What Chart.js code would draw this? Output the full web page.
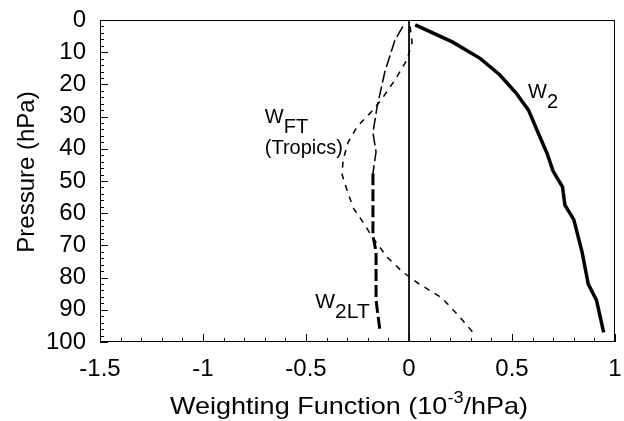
<!DOCTYPE html>
<html>
<head>
<meta charset="utf-8">
<script src="https://cdn.jsdelivr.net/npm/chart.js@4"></script>
<style>
  html, body { margin: 0; padding: 0; background: #fff; }
  #wrap { width: 624px; height: 421px; }
</style>
</head>
<body>
<div id="wrap"><canvas id="chart" width="624" height="421"></canvas></div>
<script>
'use strict'

// tick values
const xTicks = [-1.5, -1, -0.5, 0, 0.5, 1];
const yTicks = [0, 10, 20, 30, 40, 50, 60, 70, 80, 90, 100];

// W2 (thick solid)
const w2X = [0.03, 0.21, 0.345, 0.44, 0.52, 0.58, 0.62, 0.67, 0.70, 0.745, 0.757, 0.80, 0.84, 0.87, 0.91, 0.945];
const w2P = [1.5, 6.8, 11.9, 17, 22.7, 28, 34, 41.4, 47, 51.8, 57.5, 62, 72, 82, 87, 97];

// WFT tropics (short dashes)
const wftX = [0.005, 0.015, -0.01, -0.068, -0.126, -0.175, -0.25, -0.296, -0.32, -0.325, -0.3, -0.27, -0.214, -0.175, -0.107, -0.03, 0.05, 0.16, 0.25, 0.31];
const wftP = [2, 7, 12.4, 18.6, 24, 28, 33, 38, 43.5, 48, 53, 58.4, 63.7, 67.7, 73.6, 78.3, 82, 86.3, 92.5, 97];

// W2LT (long dashes)
const w2ltX = [-0.03, -0.068, -0.117, -0.155, -0.175, -0.16, -0.175, -0.175, -0.16, -0.16, -0.14];
const w2ltP = [2, 6.2, 16, 27, 35, 41, 47.6, 67, 72, 87, 97];

// zero line
const zeroX = [0, 0];
const zeroP = [0, 100];

const FONT = "'Liberation Sans', Arial, sans-serif";

function pts(xs, ps) {
    return xs.map((x, i) => ({ x: x, y: ps[i] }));
}

function noPad(s) {
    s.paddingTop = 0;
    s.paddingBottom = 0;
    s.paddingLeft = 0;
    s.paddingRight = 0;
}

// box, minor ticks, titles and curve labels
const decor = {
    id: 'decor',
    afterDraw(chart) {
        const ctx = chart.ctx;
        const xs = chart.scales.x, ys = chart.scales.y;
        const a = chart.chartArea;
        ctx.save();
        ctx.strokeStyle = '#000';
        ctx.lineWidth = 1;
        ctx.strokeRect(a.left + 0.5, a.top + 0.5, a.right - a.left - 1, a.bottom - a.top - 1);

        ctx.beginPath();
        for (let p = 0; p <= 100; p += 2) {
            const y = Math.round(ys.getPixelForValue(p)) + 0.5;
            const len = (p % 10 === 0) ? 8 : 4;
            ctx.moveTo(a.left, y);
            ctx.lineTo(a.left + len, y);
        }
        for (let i = -15; i <= 10; i++) {
            const x = Math.round(xs.getPixelForValue(i / 10)) + 0.5;
            const len = (i % 5 === 0) ? 8 : 4;
            ctx.moveTo(x, a.bottom);
            ctx.lineTo(x, a.bottom - len);
        }
        ctx.stroke();

        ctx.fillStyle = '#000';
        ctx.textBaseline = 'alphabetic';
        ctx.textAlign = 'left';

        // x title with superscript, stretched a bit like the original type
        const t1 = 'Weighting Function (10', sup = '-3', t2 = '/hPa)';
        ctx.font = '24px ' + FONT;
        const w1 = ctx.measureText(t1).width, w2 = ctx.measureText(t2).width;
        ctx.font = '16px ' + FONT;
        const ws = ctx.measureText(sup).width;
        const total = w1 + ws + w2;
        ctx.save();
        ctx.translate(170, 414);
        ctx.scale(358 / total, 1);
        ctx.font = '24px ' + FONT;
        ctx.fillText(t1, 0, 0);
        ctx.font = '16px ' + FONT;
        ctx.fillText(sup, w1, -11);
        ctx.font = '24px ' + FONT;
        ctx.fillText(t2, w1 + ws, 0);
        ctx.restore();

        // y title
        ctx.save();
        ctx.translate(27, 172);
        ctx.rotate(-Math.PI / 2);
        ctx.textAlign = 'center';
        ctx.textBaseline = 'middle';
        ctx.font = '24px ' + FONT;
        ctx.fillText('Pressure (hPa)', 0, 0);
        ctx.restore();

        // curve labels
        function label(main, sub, x, p, size) {
            const px = xs.getPixelForValue(x), py = ys.getPixelForValue(p);
            ctx.font = size + 'px ' + FONT;
            ctx.fillText(main, px, py);
            const mw = ctx.measureText(main).width;
            ctx.fillText(sub, px + mw, py + 10);
        }
        label('W', '2', 0.578, 24.2, 20);
        label('W', 'FT', -0.70, 31.9, 20);
        label('W', '2LT', -0.455, 89.3, 21);
        ctx.font = '20px ' + FONT;
        ctx.fillText('(Tropics)', xs.getPixelForValue(-0.70), ys.getPixelForValue(41.5));
        ctx.restore();
    }
};

const ctx = document.getElementById('chart').getContext('2d');
const chart = new Chart(ctx, {
    type: 'scatter',
    data: {
        datasets: [
            {
                label: 'zero',
                data: pts(zeroX, zeroP),
                showLine: true,
                borderColor: '#000',
                borderWidth: 1,
                pointRadius: 0
            },
            {
                label: 'W2',
                data: pts(w2X, w2P),
                showLine: true,
                borderColor: '#000',
                borderWidth: 3.5,
                pointRadius: 0
            },
            {
                label: 'WFT',
                data: pts(wftX, wftP),
                showLine: true,
                borderColor: '#000',
                borderWidth: 1.5,
                borderDash: [6, 6],
                pointRadius: 0
            },
            {
                label: 'W2LT',
                data: pts(w2ltX, w2ltP),
                showLine: true,
                borderColor: '#000',
                borderWidth: 1.5,
                borderDash: [12, 4],
                pointRadius: 0,
                segment: {
                    borderWidth: c => (c.p0.parsed.y >= 47 ? 3 : 1.5)
                }
            }
        ]
    },
    options: {
        responsive: false,
        animation: false,
        devicePixelRatio: 1,
        layout: { padding: { top: 20, right: 9, left: 0, bottom: 0 } },
        plugins: {
            legend: { display: false },
            tooltip: { enabled: false }
        },
        scales: {
            x: {
                type: 'linear',
                min: -1.5,
                max: 1,
                afterBuildTicks: s => { s.ticks = xTicks.map(v => ({ value: v })); },
                afterFit: s => { s.height = 79; noPad(s); },
                grid: { display: false },
                border: { display: false },
                ticks: {
                    color: '#000',
                    font: { family: FONT, size: 24 },
                    padding: 5,
                    maxRotation: 0,
                    callback: v => String(v)
                }
            },
            y: {
                type: 'linear',
                reverse: true,
                min: 0,
                max: 100,
                afterBuildTicks: s => { s.ticks = yTicks.map(v => ({ value: v })); },
                afterFit: s => { s.width = 100; noPad(s); },
                grid: { display: false },
                border: { display: false },
                ticks: {
                    color: '#000',
                    font: { family: FONT, size: 24 },
                    padding: 6
                }
            }
        }
    },
    plugins: [decor]
});
</script>
</body>
</html>
